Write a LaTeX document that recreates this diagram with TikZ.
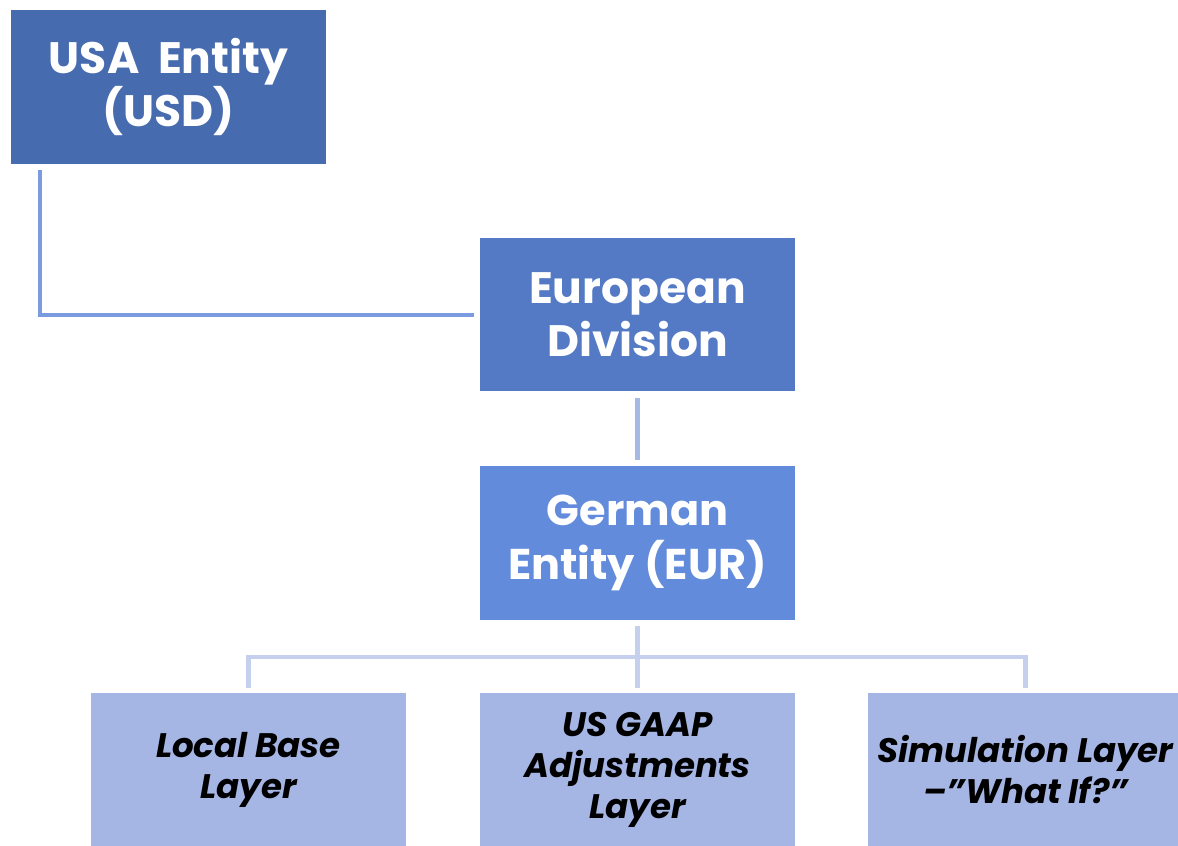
\documentclass[tikz,border=0pt]{standalone}
\usepackage{fontspec}
\setmainfont{Poppins}
\usetikzlibrary{calc}
\definecolor{usafill}{RGB}{71,107,175}
\definecolor{eurofill}{RGB}{84,122,198}
\definecolor{gerfill}{RGB}{98,139,220}
\definecolor{layerfill}{RGB}{166,182,228}
\definecolor{usaline}{RGB}{123,155,224}
\definecolor{euroline}{RGB}{166,184,228}
\definecolor{gerline}{RGB}{197,208,238}
\tikzset{
  unitbox/.style={rectangle, minimum width=315pt, minimum height=154pt,
    inner sep=0pt, align=center, text=white, font=\bfseries},
  layerbox/.style={rectangle, fill=layerfill, minimum width=315pt, minimum height=154pt,
    inner sep=0pt, align=center, text=black,
    font=\fontsize{34}{41}\selectfont\bfseries\itshape},
  link/.style={line width=4.5pt, line cap=butt}
}
\begin{document}
\begin{tikzpicture}[x=1pt, y=-1pt]
  \useasboundingbox (0,0) rectangle (1178,846);
  \clip (0,0) rectangle (1178,846);

  % entity boxes
  \node[unitbox, fill=usafill, font=\fontsize{44}{53}\selectfont\bfseries]
    (usa) at (168.5,87) {USA\ \ Entity\\(USD)};
  \node[unitbox, fill=eurofill, minimum height=153pt, font=\fontsize{44}{53}\selectfont\bfseries]
    (euro) at (637.5,314.5) {European\\Division};
  \node[unitbox, fill=gerfill, font=\fontsize{43}{54}\selectfont\bfseries]
    (ger) at (637.5,543) {German\\Entity (EUR)};

  % reporting layers
  \node[layerbox] (base) at (248.5,770) {Local Base\\Layer};
  \node[layerbox] (gaap) at (637.5,770) {US GAAP\\Adjustments\\Layer};
  \node[layerbox] (sim) at (1025.5,770) {Simulation Layer\\--''What If?''};

  % connectors
  \draw[link, usaline, line width=4pt]
    ($(usa.south west)+(29,6)$) |- ($(euro.west)+(-6,0)$);
  \draw[link, euroline] ($(euro.south)+(0,7)$) -- ($(ger.north)+(0,-6)$);
  \coordinate (bus) at ($(ger.south)+(0,37)$);
  \draw[link, gerline] ($(ger.south)+(0,6)$) -- ($(gaap.north)+(0,-5)$);
  \draw[link, gerline] ($(base.north)+(0,-5)$) |- (bus) -| ($(sim.north)+(0,-5)$);
\end{tikzpicture}
\end{document}
